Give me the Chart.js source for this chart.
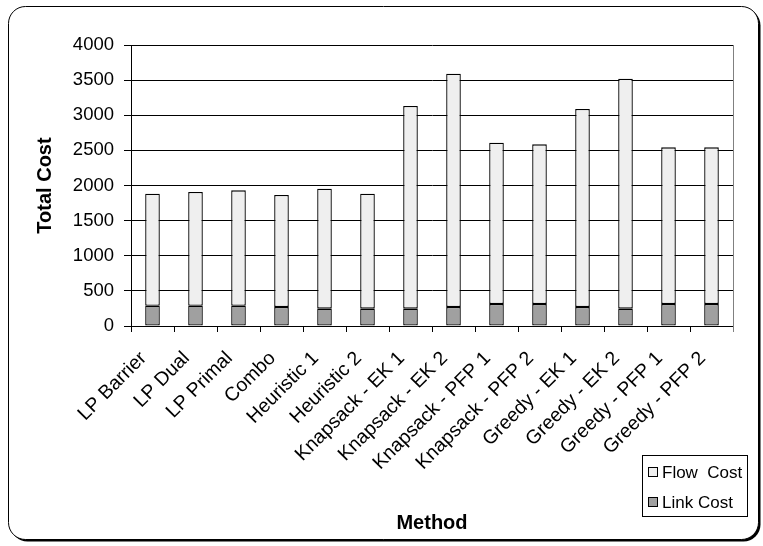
<!DOCTYPE html>
<html>
<head>
<meta charset="utf-8">
<script src="https://cdn.jsdelivr.net/npm/chart.js@4/dist/chart.umd.min.js"></script>
<style>
  html, body { margin: 0; padding: 0; background: #fff; }
  #wrap { width: 763px; height: 546px; position: relative; }
</style>
</head>
<body>
<div id="wrap"><canvas id="c" width="763" height="546"></canvas></div>
<script>
const categories = ["LP Barrier", "LP Dual", "LP Primal", "Combo", "Heuristic 1", "Heuristic 2",
  "Knapsack - EK 1", "Knapsack - EK 2", "Knapsack - PFP 1", "Knapsack - PFP 2",
  "Greedy - EK 1", "Greedy - EK 2", "Greedy - PFP 1", "Greedy - PFP 2"];
const linkCost = [289, 289, 289, 270, 247, 247, 247, 270, 313, 313, 270, 247, 313, 313];
const flowCost = [1594, 1618, 1642, 1595, 1708, 1636, 2885, 3322, 2297, 2273, 2819, 3274, 2230, 2230];
const seriesNames = ["Link Cost", "Flow  Cost"];
const yTicks = { min: 0, max: 4000, step: 500 };

const FONT = "'Liberation Sans', Arial, sans-serif";

const framePlugin = {
  id: 'frame',
  beforeDraw(chart) {
    const ctx = chart.ctx;
    const rr = (x, y, w, h, r) => {
      ctx.beginPath();
      ctx.moveTo(x + r, y);
      ctx.lineTo(x + w - r, y);
      ctx.arcTo(x + w, y, x + w, y + r, r);
      ctx.lineTo(x + w, y + h - r);
      ctx.arcTo(x + w, y + h, x + w - r, y + h, r);
      ctx.lineTo(x + r, y + h);
      ctx.arcTo(x, y + h, x, y + h - r, r);
      ctx.lineTo(x, y + r);
      ctx.arcTo(x, y, x + r, y, r);
      ctx.closePath();
    };
    ctx.save();
    ctx.fillStyle = '#fff';
    ctx.fillRect(0, 0, chart.width, chart.height);
    ctx.fillStyle = '#000';
    rr(10.5, 8.5, 750, 533, 17);
    ctx.fill();
    ctx.fillStyle = '#fff';
    rr(8.5, 6.5, 750, 533, 17);
    ctx.fill();
    ctx.strokeStyle = '#000';
    ctx.lineWidth = 1;
    ctx.stroke();
    ctx.restore();
  },
  afterDraw(chart) {
    const ctx = chart.ctx;
    const a = chart.chartArea;
    ctx.save();
    ctx.strokeStyle = '#808080';
    ctx.lineWidth = 1;
    ctx.beginPath();
    ctx.moveTo(Math.round(a.right) + 0.5, a.top);
    ctx.lineTo(Math.round(a.right) + 0.5, a.bottom + 6);
    ctx.stroke();
    const bx = 642.5, by = 455.5, bw = 105, bh = 61;
    ctx.strokeStyle = '#000';
    ctx.fillStyle = '#fff';
    ctx.fillRect(bx, by, bw, bh);
    ctx.strokeRect(bx, by, bw, bh);
    const ds = chart.data.datasets;
    const order = [1, 0];
    ctx.font = "17px " + FONT;
    ctx.textBaseline = 'middle';
    ctx.textAlign = 'left';
    order.forEach((di, i) => {
      const y = 472 + i * 30;
      ctx.fillStyle = ds[di].backgroundColor;
      ctx.fillRect(648.5, y - 4.5, 9, 9);
      ctx.strokeStyle = '#000';
      ctx.strokeRect(648.5, y - 4.5, 9, 9);
      ctx.fillStyle = '#000';
      ctx.fillText(ds[di].label, 662, y + 1);
    });
    ctx.restore();
  }
};

new Chart(document.getElementById('c'), {
  type: 'bar',
  data: {
    labels: categories,
    datasets: [
      { label: seriesNames[0], data: linkCost, backgroundColor: '#a0a0a0', borderColor: '#000', borderWidth: 1.3, borderSkipped: false },
      { label: seriesNames[1], data: flowCost, backgroundColor: '#efefef', borderColor: '#000', borderWidth: 1.3, borderSkipped: false }
    ]
  },
  options: {
    responsive: false,
    animation: false,
    devicePixelRatio: 1,
    layout: { padding: { left: 12, top: 45, right: 30, bottom: 8 } },
    datasets: { bar: { categoryPercentage: 1, barPercentage: 0.34 } },
    plugins: { legend: { display: false }, tooltip: { enabled: false } },
    scales: {
      x: {
        stacked: true,
        offset: true,
        grid: { display: true, drawOnChartArea: false, offset: true, drawTicks: true, tickLength: 6, color: '#000', tickColor: '#000' },
        border: { color: '#000', width: 1 },
        ticks: { color: '#000', font: { family: FONT, size: 19.5 }, minRotation: 45, maxRotation: 45, autoSkip: false, padding: 15, labelOffset: -9 },
        title: { display: true, text: 'Method', color: '#000', font: { family: FONT, size: 20, weight: 'bold' }, padding: { top: 0, bottom: 3 } },
        afterFit(s) { s.height = 546 - 326 - 8; }
      },
      y: {
        stacked: true,
        min: yTicks.min,
        max: yTicks.max,
        grid: { color: '#000', tickColor: '#000', tickLength: 7, drawTicks: true },
        border: { color: '#000', width: 1 },
        ticks: { stepSize: yTicks.step, color: '#000', font: { family: FONT, size: 18.5 }, padding: 10, callback: (v) => String(v) },
        title: { display: true, text: 'Total Cost', color: '#000', font: { family: FONT, size: 20, weight: 'bold' }, padding: { top: 21, bottom: 0 } },
        afterFit(s) { s.width = 131 - 12; }
      }
    }
  },
  plugins: [framePlugin]
});
</script>
</body>
</html>
